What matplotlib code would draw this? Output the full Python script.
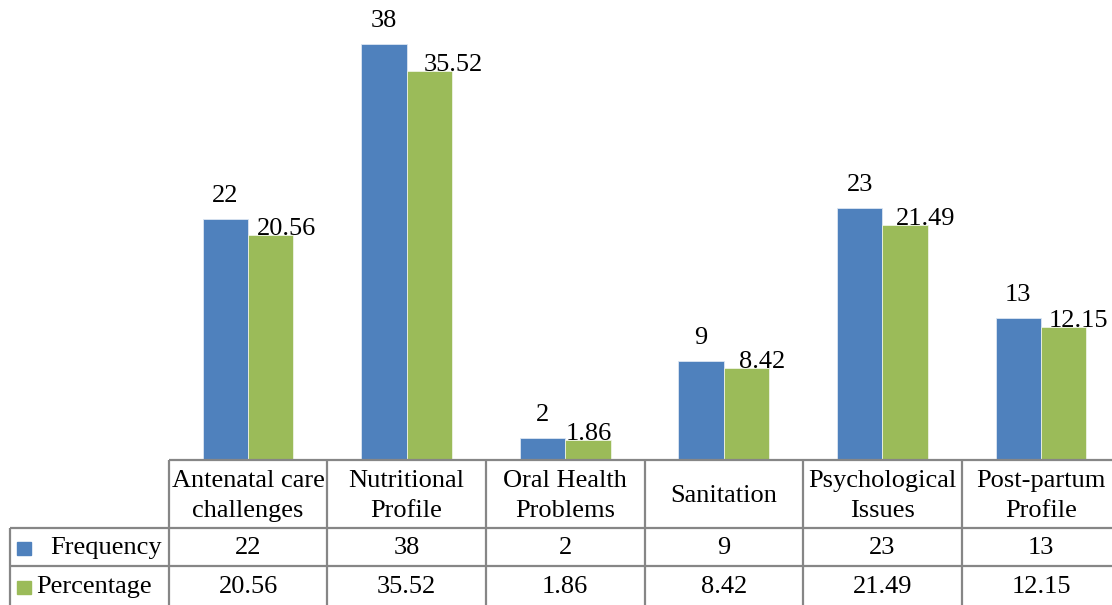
import matplotlib
matplotlib.use('Agg')
import matplotlib.pyplot as plt
import matplotlib.transforms as mtransforms
import numpy as np

categories = ['Antenatal care\nchallenges', 'Nutritional\nProfile', 'Oral Health\nProblems',
              'Sanitation', 'Psychological\nIssues', 'Post-partum\nProfile']
frequency = [22, 38, 2, 9, 23, 13]
percentage = [20.56, 35.52, 1.86, 8.42, 21.49, 12.15]
freq_text = ['22', '38', '2', '9', '23', '13']
pct_text = ['20.56', '35.52', '1.86', '8.42', '21.49', '12.15']

BLUE = '#4F81BD'
GREEN = '#9BBB59'
GRID = '#868686'

plt.rcParams['font.family'] = ['Liberation Serif', 'DejaVu Serif']
plt.rcParams['font.size'] = 19

fig = plt.figure(figsize=(11.12, 6.05), dpi=100)
# plot area: bars sit on the table header; the last column runs past the right edge
ax = fig.add_axes([168.7 / 1112, 145 / 605, 951.6 / 1112, 460 / 605])
ax.set_xlim(-0.5, 5.5)
ax.set_ylim(0, 42)
ax.axis('off')

x = np.arange(len(categories))
w = 0.286
ax.bar(x - w / 2, frequency, w, color=BLUE, edgecolor='#dce6f2', linewidth=0.6, zorder=2)
ax.bar(x + w / 2, percentage, w, color=GREEN, edgecolor='#eef3e4', linewidth=0.6, zorder=2)

# data labels; percentage labels are nudged right (pixels) as in the source chart
pct_nudge = [16, 24, 1, 16, 21, 15]
for i in range(len(categories)):
    ax.annotate(freq_text[i], (x[i] - w / 2, frequency[i]), xytext=(0, 17),
                textcoords='offset pixels', ha='center', va='baseline')
    ax.annotate(pct_text[i], (x[i] + w / 2, percentage[i]), xytext=(pct_nudge[i], 0),
                textcoords='offset pixels', ha='center', va='baseline', zorder=3)

# data table below the bars: x in data units, y in axes fraction
tr = mtransforms.blended_transform_factory(ax.transData, ax.transAxes)
y_head = -68 / 460
y_row1 = -106 / 460
y_bot = -145 / 460
lkw = dict(color=GRID, lw=1.6, transform=tr, clip_on=False, solid_capstyle='butt')

ax.plot([-0.5, 5.6], [0, 0], **lkw)
ax.plot([-1.5, 5.6], [y_head, y_head], **lkw)
ax.plot([-1.5, 5.6], [y_row1, y_row1], **lkw)
ax.plot([-1.5, -1.5], [y_head, y_bot], **lkw)
for b in np.arange(-0.5, 6.0, 1.0):
    ax.plot([b, b], [0, y_bot], **lkw)

tkw = dict(transform=tr, ha='center', va='center', clip_on=False)
for i, cat in enumerate(categories):
    ax.text(x[i], y_head / 2 - 0.004, cat, linespacing=1.45, **tkw)
    ax.text(x[i], (y_head + y_row1) / 2 - 0.003, freq_text[i], **tkw)
    ax.text(x[i], (y_row1 + y_bot) / 2 - 0.003, pct_text[i], **tkw)

# legend keys in the row-label column
fig.patches.append(plt.Rectangle((17 / 1112, (605 - 555) / 605), 14 / 1112, 13 / 605,
                                 transform=fig.transFigure, color=BLUE))
fig.patches.append(plt.Rectangle((17 / 1112, (605 - 594) / 605), 14 / 1112, 13 / 605,
                                 transform=fig.transFigure, color=GREEN))
fig.text(50 / 1112, (605 - 548) / 605, 'Frequency', ha='left', va='center')
fig.text(36 / 1112, (605 - 587) / 605, 'Percentage', ha='left', va='center')

fig.savefig('out.png', dpi=100, facecolor='white')
